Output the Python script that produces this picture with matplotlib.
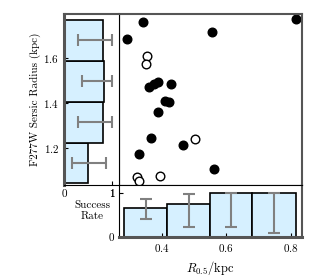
import numpy as np
import matplotlib
matplotlib.use("Agg")
import matplotlib.pyplot as plt

plt.rcParams["font.family"] = "serif"
plt.rcParams["font.serif"] = ["cmr10", "DejaVu Serif"]
plt.rcParams["mathtext.fontset"] = "cm"
plt.rcParams["axes.formatter.use_mathtext"] = True
plt.rcParams["font.size"] = 8

# galaxies: R_0.5 (kpc) vs F277W Sersic radius (kpc)
x_fill = [0.344, 0.294, 0.557, 0.816, 0.360, 0.377, 0.389, 0.430, 0.410, 0.422,
          0.390, 0.367, 0.466, 0.331, 0.563]
y_fill = [1.759, 1.683, 1.714, 1.772, 1.472, 1.484, 1.496, 1.484, 1.410, 1.403,
          1.359, 1.246, 1.213, 1.176, 1.107]
x_open = [0.354, 0.352, 0.504, 0.323, 0.331, 0.395]
y_open = [1.610, 1.573, 1.240, 1.073, 1.055, 1.076]

# success rate binned in R_0.5 (bottom panel)
xbins = [0.284, 0.417, 0.550, 0.680, 0.816]
xrate = [0.67, 0.75, 1.0, 1.0]
xrate_lo = [0.41, 0.23, 0.23, 0.09]
xrate_hi = [0.86, 0.98, 1.0, 1.0]

# success rate binned in Sersic radius (left panel)
ybins = [1.046, 1.225, 1.406, 1.588, 1.769]
yrate = [0.50, 0.80, 0.835, 0.80]
yrate_lo = [0.16, 0.30, 0.37, 0.30]
yrate_hi = [0.87, 1.0, 1.0, 1.0]

barcol = "#d6f0ff"
errcol = "#808080"
outer = "#555555"

fig = plt.figure(figsize=(3.2, 2.8), dpi=100)
ax = fig.add_axes([0.372, 0.339, 0.572, 0.611])
axl = fig.add_axes([0.2, 0.339, 0.172, 0.611])
axb = fig.add_axes([0.372, 0.1536, 0.572, 0.1854])

ax.plot(x_fill, y_fill, "o", color="k", ms=6.2, mec="k")
ax.plot(x_open, y_open, "o", mfc="white", mec="k", ms=6.2, mew=1.0)
ax.set_xlim(0.2684, 0.835)
ax.set_ylim(1.036, 1.796)
ax.set_xticks([])
ax.set_yticks([])

# left panel
yb = np.array(ybins)
yc = (yb[:-1] + yb[1:]) / 2
yr = np.array(yrate)
axl.barh(yb[:-1], yr, height=np.diff(yb), align="edge", color=barcol,
         edgecolor="k", linewidth=1.2)
axl.errorbar(yr, yc, xerr=[yr - np.array(yrate_lo), np.array(yrate_hi) - yr],
             fmt="none", ecolor=errcol, elinewidth=1.5, capsize=4, capthick=1.5)
axl.set_ylim(ax.get_ylim())
axl.set_xlim(0, 1.14)
axl.set_yticks([1.2, 1.4, 1.6])
axl.set_xticks([0, 1])
axl.set_xticklabels(["0", "1"])
axl.tick_params(direction="in", length=3, right=False, top=False)
axl.set_ylabel("F277W Sersic Radius (kpc)", labelpad=2)

# bottom panel
xb = np.array(xbins)
xc = (xb[:-1] + xb[1:]) / 2
xr = np.array(xrate)
axb.bar(xb[:-1], xr, width=np.diff(xb), align="edge", color=barcol,
        edgecolor="k", linewidth=1.2)
axb.errorbar(xc, xr, yerr=[xr - np.array(xrate_lo), np.array(xrate_hi) - xr],
             fmt="none", ecolor=errcol, elinewidth=1.5, capsize=4, capthick=1.5)
axb.set_xlim(ax.get_xlim())
axb.set_ylim(0, 1.18)
axb.set_xticks([0.4, 0.6, 0.8])
axb.set_yticks([0, 1])
axb.set_yticklabels(["0", "1"])
axb.tick_params(direction="in", length=3, right=False, top=False)
axb.set_xlabel("$R_{0.5}$/kpc", fontsize=9)
axb.set_ylabel("Success\nRate", rotation=0, ha="center", va="center")
axb.yaxis.set_label_coords(-0.147, 0.5)

# spines: outer frame grey and thick, inner boundaries thin black
for a in (ax, axl, axb):
    for s in a.spines.values():
        s.set_color("k")
        s.set_linewidth(0.8)
ax.spines["top"].set(color=outer, linewidth=1.5)
ax.spines["right"].set(color=outer, linewidth=1.5)
axl.spines["top"].set(color=outer, linewidth=1.5)
axl.spines["left"].set(color=outer, linewidth=2.2)
axb.spines["bottom"].set(color=outer, linewidth=2.2)
axb.spines["right"].set(color=outer, linewidth=1.5)

fig.savefig("out.png", dpi=100)
